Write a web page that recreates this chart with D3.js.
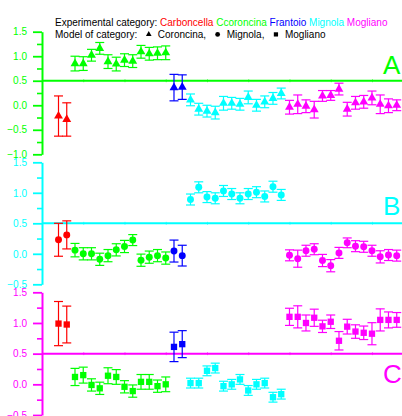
<!DOCTYPE html>
<html>
<head>
<meta charset="utf-8">
<script src="https://cdn.jsdelivr.net/npm/d3@7"></script>
<style>
  html, body { margin: 0; padding: 0; background: #fff; }
  svg { display: block; font-family: "Liberation Sans", Arial, sans-serif; }
</style>
</head>
<body>
<svg id="chart" width="402" height="416"></svg>
<script>
// Experimental categories, in sample order along the x axis
const categories = ["Carboncella", "Ccoroncina", "Frantoio", "Mignola", "Mogliano"];
const categorySizes = [2, 12, 2, 12, 14];
const firstSample = 2;
const categoryColors = ["#ff0000", "#00ff00", "#0000ff", "#00ffff", "#ff00ff"];

// Reference models (one panel each)
const modelNames = ["Coroncina", "Mignola", "Mogliano"];
const panelLetters = ["A", "B", "C"];
const panelColors = ["#00ff00", "#00ffff", "#ff00ff"];
const threshold = 0.5;

// Model A (Coroncina) predictions and errors
const scoreA = [
  -0.22, -0.29,
  0.85, 0.85, 1.02, 1.16, 0.89, 0.84, 0.92, 0.90, 1.09, 1.05, 1.06, 1.07,
  0.36, 0.37,
  0.11, -0.08, -0.12, -0.15, 0.04, 0.04, 0.02, 0.16, 0.00, 0.07, 0.14, 0.24,
  -0.04, 0.02, -0.02, -0.09, 0.19, 0.20, 0.33, -0.08, 0.05, 0.07, 0.15, 0.02, -0.01, 0.00
];
const errA = [
  0.41, 0.34,
  0.15, 0.14, 0.12, 0.12, 0.14, 0.14, 0.13, 0.13, 0.13, 0.13, 0.13, 0.14,
  0.27, 0.25,
  0.12, 0.12, 0.12, 0.13, 0.14, 0.12, 0.12, 0.13, 0.12, 0.12, 0.12, 0.11,
  0.14, 0.19, 0.13, 0.17, 0.11, 0.10, 0.12, 0.14, 0.13, 0.13, 0.14, 0.19, 0.14, 0.11
];

// Model B (Mignola)
const scoreB = [
  0.23, 0.31,
  0.06, 0.00, 0.00, -0.09, -0.03, 0.065, 0.12, 0.225, -0.105, -0.055, -0.03, -0.07,
  0.045, -0.03,
  0.89, 1.09, 0.93, 0.91, 1.03, 0.98, 0.91, 0.98, 1.01, 0.94, 1.10, 0.965,
  -0.025, -0.08, 0.05, 0.075, -0.11, -0.195, 0.015, 0.18, 0.125, 0.115, 0.05, -0.05, -0.02, -0.03
];
const errB = [
  0.27, 0.23,
  0.11, 0.10, 0.10, 0.10, 0.10, 0.10, 0.10, 0.09, 0.10, 0.10, 0.10, 0.10,
  0.18, 0.17,
  0.09, 0.09, 0.09, 0.09, 0.09, 0.09, 0.09, 0.09, 0.09, 0.09, 0.09, 0.09,
  0.09, 0.14, 0.09, 0.09, 0.10, 0.10, 0.09, 0.08, 0.09, 0.09, 0.09, 0.10, 0.09, 0.09
];

// Model C (Mogliano)
const scoreC = [
  0.99, 0.975,
  0.12, 0.15, -0.01, -0.065, 0.14, 0.12, -0.04, -0.11, 0.04, 0.04, -0.03, 0.00,
  0.61, 0.655,
  0.02, 0.02, 0.22, 0.265, -0.03, 0.00, 0.08, -0.10, 0.00, 0.02, -0.21, -0.16,
  1.10, 1.10, 1.00, 1.085, 0.945, 1.02, 0.71, 0.94, 0.86, 0.84, 0.825, 1.05, 1.05, 1.05
];
const errC = [
  0.36, 0.30,
  0.14, 0.13, 0.10, 0.10, 0.13, 0.12, 0.10, 0.10, 0.12, 0.12, 0.10, 0.12,
  0.24, 0.22,
  0.08, 0.08, 0.08, 0.08, 0.08, 0.08, 0.08, 0.08, 0.08, 0.08, 0.08, 0.08,
  0.14, 0.18, 0.13, 0.14, 0.10, 0.11, 0.15, 0.12, 0.11, 0.11, 0.18, 0.18, 0.13, 0.12
];

// Axis tick values
const ticksA = [-1.0, -0.5, 0.0, 0.5, 1.0, 1.5];
const ticksBC = [-0.5, 0.0, 0.5, 1.0, 1.5];
const fmt = d3.format(".1f");

// category index for each sample
const sampleCategory = categorySizes.flatMap((n, ci) => d3.range(n).map(() => ci));

const svg = d3.select("#chart");
const x = d3.scaleLinear().domain([0, 43.64]).range([42, 402]);

const panels = [
  { scores: scoreA, errs: errA, ticks: ticksA, domain: [-1, 1.5], range: [154.3, 31.7], symbol: d3.symbolTriangle, size: 34, letterY: 74 },
  { scores: scoreB, errs: errB, ticks: ticksBC, domain: [-0.5, 1.5], range: [284.3, 162.3], symbol: d3.symbolCircle, size: 38, letterY: 215 },
  { scores: scoreC, errs: errC, ticks: ticksBC, domain: [-0.5, 1.5], range: [415, 292.3], symbol: d3.symbolSquare, size: 40, letterY: 383 }
];

panels.forEach((p, pi) => {
  const color = panelColors[pi];
  const y = d3.scaleLinear().domain(p.domain).range(p.range);
  const g = svg.append("g");

  // minor ticks
  const minor = d3.range(p.domain[0] + 0.25, p.domain[1], 0.5);
  g.append("g")
    .attr("transform", `translate(${x(0)},0)`)
    .call(d3.axisLeft(y).tickValues(minor).tickSize(5).tickSizeOuter(0).tickFormat(""))
    .call(a => a.select(".domain").remove())
    .call(a => a.selectAll("line").attr("stroke", color).attr("stroke-width", 1.6));

  // major ticks and labels
  const ax = g.append("g")
    .attr("transform", `translate(${x(0)},0)`)
    .call(d3.axisLeft(y).tickValues(p.ticks).tickSize(9).tickSizeOuter(0).tickPadding(6).tickFormat(fmt));
  ax.select(".domain").attr("stroke", color).attr("stroke-width", 2);
  ax.selectAll("line").attr("stroke", color).attr("stroke-width", 1.8);
  ax.selectAll("text").attr("fill", color).attr("font-size", 10)
    .attr("font-family", "Liberation Sans, Arial, sans-serif");

  // threshold line with x ticks
  g.append("line")
    .attr("x1", x(0)).attr("x2", 402)
    .attr("y1", y(threshold)).attr("y2", y(threshold))
    .attr("stroke", color).attr("stroke-width", 2);
  g.append("g")
    .attr("transform", `translate(0,${y(threshold) - 1.5})`)
    .call(d3.axisBottom(x).tickValues(d3.range(5, 44, 5)).tickSize(3).tickFormat(""))
    .call(a => a.select(".domain").remove())
    .call(a => a.selectAll("line").attr("stroke", color).attr("stroke-width", 1).attr("opacity", 0.6));

  // data points
  const pts = p.scores.map((v, i) => ({
    i: firstSample + i, v, e: p.errs[i], c: categoryColors[sampleCategory[i]]
  }));
  const pg = g.selectAll("g.pt").data(pts).join("g").attr("class", "pt");
  pg.append("line")
    .attr("x1", d => x(d.i)).attr("x2", d => x(d.i))
    .attr("y1", d => y(d.v + d.e)).attr("y2", d => y(d.v - d.e))
    .attr("stroke", d => d.c).attr("stroke-width", 1.2);
  [1, -1].forEach(s => {
    pg.append("line")
      .attr("x1", d => x(d.i) - 4.5).attr("x2", d => x(d.i) + 4.5)
      .attr("y1", d => y(d.v + s * d.e)).attr("y2", d => y(d.v + s * d.e))
      .attr("stroke", d => d.c).attr("stroke-width", 1.2);
  });
  pg.append("path")
    .attr("d", d3.symbol(p.symbol, p.size))
    .attr("transform", d => `translate(${x(d.i)},${y(d.v)})`)
    .attr("fill", d => d.c);

  // panel letter
  g.append("text")
    .attr("x", 383).attr("y", p.letterY)
    .attr("font-size", 26).attr("fill", color)
    .text(panelLetters[pi]);
});

// legend: experimental categories
const leg1 = svg.append("text").attr("x", 55).attr("y", 25.5).attr("font-size", 10).attr("fill", "#000");
leg1.append("tspan").text("Experimental category: ");
categories.forEach((c, i) => {
  leg1.append("tspan").attr("fill", categoryColors[i]).text(c + (i < categories.length - 1 ? " " : ""));
});

// legend: model symbols
const legY = 38;
const leg2 = svg.append("g").attr("font-size", 10).attr("fill", "#000");
let cursor = 55;
const head = leg2.append("text").attr("x", cursor).attr("y", legY).text("Model of category:");
cursor += head.node().getComputedTextLength();
const legendSymbols = [d3.symbolTriangle, d3.symbolCircle, d3.symbolSquare];
const legendSymbolSizes = [14, 18, 18];
modelNames.forEach((m, i) => {
  cursor += 11.5;
  leg2.append("path")
    .attr("d", d3.symbol(legendSymbols[i], legendSymbolSizes[i]))
    .attr("transform", `translate(${cursor},${legY - 3.6})`)
    .attr("fill", "#000");
  cursor += 9;
  const t = leg2.append("text").attr("x", cursor).attr("y", legY)
    .text(m + (i < modelNames.length - 1 ? "," : ""));
  cursor += t.node().getComputedTextLength();
});
</script>
</body>
</html>
